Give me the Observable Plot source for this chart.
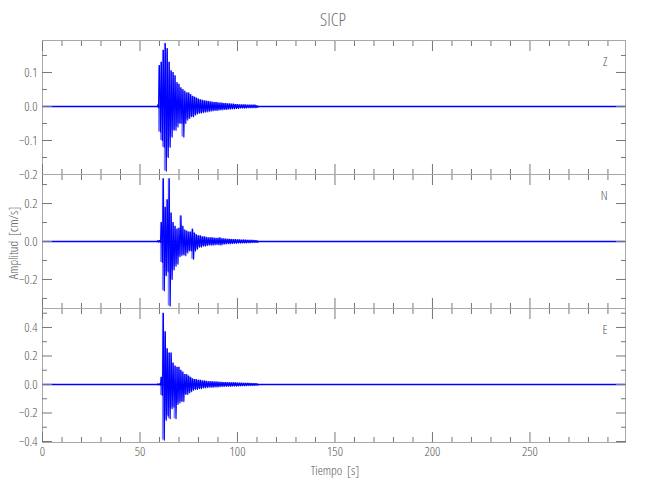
<!DOCTYPE html>
<html><head><meta charset="utf-8">
<script src="https://cdn.jsdelivr.net/npm/d3@7"></script>
<script src="https://cdn.jsdelivr.net/npm/@observablehq/plot@0.6"></script>
<style>
body{margin:0;background:#fff;}
#wrap{position:relative;width:650px;height:500px;font-family:"Open Sans",sans-serif;font-stretch:75%;font-weight:300;color:#555;}
.panel{position:absolute;left:0;}
#title{position:absolute;left:0;width:666px;top:7px;text-align:center;font-size:18px;color:#707070;}
#ylab{position:absolute;left:13px;top:243px;transform:translate(-50%,-50%) rotate(-90deg);font-size:13px;white-space:nowrap;}
#xlab{position:absolute;left:335px;top:470px;transform:translate(-50%,-50%);font-size:13px;white-space:nowrap;}
</style></head><body><div id="wrap">
<div id="title">SICP</div>
<div id="ylab">Amplitud&nbsp; [cm/s]</div>
<div id="xlab">Tiempo&nbsp; [s]</div>
</div>
<script>
// Time of each envelope sample (s)
const times = d3.range(59, 111);
// Z component envelope (cm/s)
const zUp = [0.004,0.12,0.13,0.165,0.185,0.17,0.13,0.105,0.10,0.09,0.07,0.065,0.055,0.05,0.045,0.04,0.04,0.035,0.03,0.028,0.025,0.022,0.02,0.018,0.017,0.016,0.015,0.014,0.013,0.012,0.012,0.011,0.010,0.010,0.009,0.009,0.008,0.008,0.007,0.007,0.006,0.006,0.005,0.005,0.005,0.005,0.004,0.004,0.004,0.004,0.004,0.003];
const zLo = [-0.004,-0.075,-0.10,-0.12,-0.19,-0.15,-0.12,-0.09,-0.07,-0.07,-0.06,-0.05,-0.05,-0.09,-0.05,-0.04,-0.035,-0.03,-0.03,-0.025,-0.022,-0.02,-0.02,-0.018,-0.017,-0.016,-0.015,-0.014,-0.013,-0.012,-0.012,-0.011,-0.010,-0.010,-0.009,-0.009,-0.008,-0.008,-0.007,-0.007,-0.006,-0.006,-0.005,-0.005,-0.005,-0.005,-0.004,-0.004,-0.004,-0.004,-0.004,-0.003];
// N component envelope
const nUp = [0.003,0.005,0.10,0.33,0.18,0.22,0.33,0.15,0.10,0.08,0.065,0.07,0.135,0.08,0.06,0.055,0.05,0.05,0.065,0.045,0.035,0.03,0.03,0.025,0.025,0.022,0.02,0.02,0.02,0.018,0.017,0.017,0.02,0.015,0.014,0.013,0.012,0.012,0.011,0.01,0.01,0.009,0.009,0.008,0.008,0.008,0.007,0.007,0.006,0.006,0.005,0.005];
const nLo = [-0.003,-0.005,-0.11,-0.26,-0.18,-0.16,-0.34,-0.2,-0.15,-0.13,-0.12,-0.08,-0.075,-0.07,-0.075,-0.06,-0.05,-0.05,-0.093,-0.05,-0.04,-0.03,-0.03,-0.025,-0.025,-0.022,-0.02,-0.02,-0.02,-0.018,-0.017,-0.017,-0.02,-0.015,-0.014,-0.013,-0.012,-0.012,-0.011,-0.01,-0.01,-0.009,-0.009,-0.008,-0.008,-0.008,-0.007,-0.007,-0.006,-0.006,-0.005,-0.005];
// E component envelope
const eUp = [0.003,0.004,0.05,0.50,0.37,0.25,0.22,0.22,0.15,0.13,0.12,0.12,0.10,0.087,0.07,0.07,0.06,0.05,0.04,0.035,0.035,0.03,0.03,0.025,0.025,0.022,0.02,0.02,0.02,0.018,0.018,0.017,0.015,0.015,0.014,0.014,0.013,0.013,0.012,0.012,0.012,0.011,0.01,0.01,0.009,0.009,0.008,0.008,0.007,0.007,0.006,0.006];
const eLo = [-0.003,-0.004,-0.077,-0.39,-0.25,-0.22,-0.24,-0.17,-0.16,-0.24,-0.14,-0.13,-0.12,-0.12,-0.07,-0.07,-0.06,-0.05,-0.04,-0.035,-0.035,-0.03,-0.03,-0.025,-0.025,-0.022,-0.02,-0.02,-0.02,-0.018,-0.018,-0.017,-0.015,-0.015,-0.014,-0.014,-0.013,-0.013,-0.012,-0.012,-0.012,-0.011,-0.01,-0.01,-0.009,-0.009,-0.008,-0.008,-0.007,-0.007,-0.006,-0.006];
// Axis ticks
const xMajor = [0, 50, 100, 150, 200, 250];
const xMinor = [10,20,30,40,60,70,80,90,110,120,130,140,160,170,180,190,210,220,230,240,260,270,280,290];
const components = ["Z", "N", "E"];
const zMajor = [-0.2, -0.1, 0, 0.1], zMinor = [-0.15, -0.05, 0.05, 0.15];
const nMajor = [-0.2, 0, 0.2], nMinor = [-0.3, -0.1, 0.1, 0.3];
const eMajor = [-0.4, -0.2, 0, 0.2, 0.4], eMinor = [-0.3, -0.1, 0.1, 0.3, 0.5];

const BLUE = "#0000ff", FRAME = "#a8a8a8", TICK = "#777";
const FONT = '"Open Sans",sans-serif';

function panel({up, lo, yDomain, yMajor, yMinor, comp, top, mb, labels}) {
  const env = times.map((t, i) => ({t, up: up[i], lo: lo[i]}));
  const pts = times.flatMap((t, i) => [{t, v: up[i]}, {t: t + 0.5, v: lo[i]}]);
  const blank = () => "";
  const marks = [
    Plot.ruleY([0], {stroke: BLUE, strokeWidth: 1.3}),
    Plot.areaY(env, {x: "t", y1: "lo", y2: "up", fill: BLUE, fillOpacity: 0.5, curve: "step"}),
    Plot.line(pts, {x: "t", y: "v", stroke: BLUE, strokeWidth: 1.1}),
    Plot.frame({stroke: FRAME}),
    Plot.axisY(yMajor, {anchor: "left", tickSize: 10, dx: 10, tickFormat: blank, label: null, stroke: TICK}),
    Plot.axisY(yMinor, {anchor: "left", tickSize: 5, dx: 5, tickFormat: blank, label: null, stroke: TICK}),
    Plot.axisY(yMajor, {anchor: "right", tickSize: 10, dx: -10, tickFormat: blank, label: null, stroke: TICK}),
    Plot.axisY(yMinor, {anchor: "right", tickSize: 5, dx: -5, tickFormat: blank, label: null, stroke: TICK}),
    Plot.axisY(yMajor, {anchor: "left", tickSize: 0, tickPadding: 5, tickFormat: d3.format(".1f"), label: null, fill: "#555"}),
    Plot.axisX(xMajor, {anchor: "top", tickSize: 10, dy: 10, tickFormat: blank, label: null, stroke: TICK}),
    Plot.axisX(xMinor, {anchor: "top", tickSize: 5, dy: 5, tickFormat: blank, label: null, stroke: TICK}),
    Plot.axisX(xMajor, {anchor: "bottom", tickSize: 10, dy: -10, tickFormat: blank, label: null, stroke: TICK}),
    Plot.axisX(xMinor, {anchor: "bottom", tickSize: 5, dy: -5, tickFormat: blank, label: null, stroke: TICK}),
    Plot.text([comp], {frameAnchor: "top-right", dx: -18, dy: 16, text: d => d, fill: "#555", fontSize: 13})
  ];
  if (labels) marks.push(Plot.axisX(xMajor, {anchor: "bottom", tickSize: 0, tickPadding: 4, tickFormat: d3.format("d"), label: null, fill: "#555"}));
  const svg = Plot.plot({
    width: 650, height: 10 + 134 + mb,
    marginLeft: 42, marginRight: 25, marginTop: 10, marginBottom: mb,
    x: {domain: [0, 299]},
    y: {domain: yDomain},
    style: {background: "transparent", overflow: "visible", fontFamily: FONT, fontStretch: "75%", fontWeight: 300, fontSize: "13px", color: "#555"},
    marks
  });
  svg.classList.add("panel");
  svg.style.top = top + "px";
  document.getElementById("wrap").appendChild(svg);
}

panel({up: zUp, lo: zLo, yDomain: [-0.2, 0.194], yMajor: zMajor, yMinor: zMinor, comp: components[0], top: 30, mb: 10});
panel({up: nUp, lo: nLo, yDomain: [-0.353, 0.353], yMajor: nMajor, yMinor: nMinor, comp: components[1], top: 164, mb: 10});
panel({up: eUp, lo: eLo, yDomain: [-0.407, 0.533], yMajor: eMajor, yMinor: eMinor, comp: components[2], top: 298, mb: 50, labels: true});
</script>
</body></html>
